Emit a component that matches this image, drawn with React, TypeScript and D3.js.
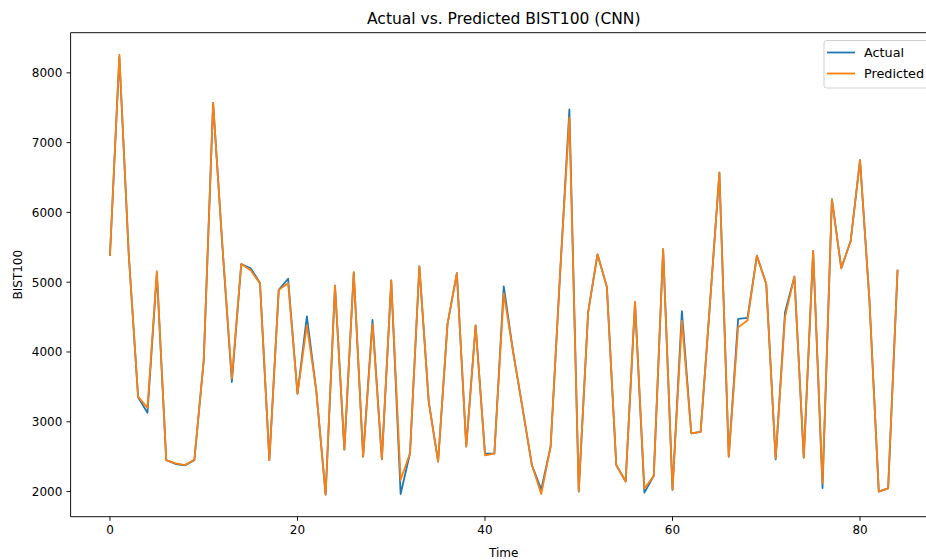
import React from "react";
import * as d3 from "d3";

const actual = [
  5390, 8230, 5400, 3350, 3130, 5130, 2450, 2395, 2375, 2450,
  3880, 7570, 5500, 3570, 5260, 5200, 4990, 2450, 4890, 5050,
  3400, 4510, 3450, 1955, 4950, 2600, 5140, 2500, 4460, 2460,
  5025, 1965, 2550, 5225, 3285, 2430, 4400, 5130, 2645, 4380,
  2545, 2545, 4940, 4000, 3200, 2380, 2030, 2645, 5100, 7475,
  2000, 4570, 5400, 4930, 2380, 2145, 4715, 1985, 2225, 5475,
  2025, 4585, 2835, 2855, 4700, 6570, 2500, 4475, 4490, 5380,
  4975, 2460, 4570, 5080, 2485, 5450, 2050, 6190, 5200, 5590,
  6750, 4750, 2000, 2045, 5165,
];

const predicted = [
  5390, 8260, 5400, 3360, 3200, 5160, 2450, 2405, 2380, 2455,
  3880, 7570, 5500, 3620, 5260, 5170, 4980, 2450, 4890, 4985,
  3405, 4380, 3450, 1955, 4950, 2600, 5145, 2500, 4400, 2465,
  5025, 2165, 2550, 5225, 3285, 2430, 4400, 5130, 2645, 4380,
  2520, 2545, 4840, 4000, 3200, 2380, 1965, 2645, 5100, 7360,
  2010, 4570, 5400, 4930, 2380, 2145, 4715, 2045, 2225, 5475,
  2025, 4450, 2835, 2855, 4700, 6570, 2500, 4355, 4450, 5380,
  4975, 2475, 4500, 5080, 2485, 5450, 2120, 6190, 5200, 5590,
  6750, 4750, 2000, 2045, 5165,
];

const xTicks = [0, 20, 40, 60, 80];
const yTicks = [2000, 3000, 4000, 5000, 6000, 7000, 8000];
const seriesNames = ["Actual", "Predicted"];
const colors = ["#1f77b4", "#ff7f0e"];

const W = 926;
const H = 560;
const left = 70.6;
const right = 936.9;
const top = 32.7;
const bottom = 516.7;
const font = "DejaVu Sans, sans-serif";

export default function App() {
  const n = actual.length;
  const xm = (n - 1) * 0.05;
  const x = d3.scaleLinear().domain([-xm, n - 1 + xm]).range([left, right]);
  const all = actual.concat(predicted);
  const lo = d3.min(all) as number;
  const hi = d3.max(all) as number;
  const ym = (hi - lo) * 0.05;
  const y = d3.scaleLinear().domain([lo - ym, hi + ym]).range([bottom, top]);
  const line = d3
    .line<number>()
    .x((_, i) => x(i))
    .y((d) => y(d));
  const series = [actual, predicted];
  const fs = 12;
  const lfs = 12.8;
  const legX = 824;
  const legY = 40.5;

  return (
    <svg
      width={W}
      height={H}
      style={{ position: "absolute", left: 0, top: 0, background: "#fff" }}
      fontFamily={font}
    >
      <rect x={0} y={0} width={W} height={H} fill="#fff" />
      <defs>
        <clipPath id="plotclip">
          <rect x={left} y={top} width={right - left} height={bottom - top} />
        </clipPath>
      </defs>
      <g clipPath="url(#plotclip)">
        {series.map((s, k) => (
          <path
            key={k}
            d={line(s) || ""}
            fill="none"
            stroke={colors[k]}
            strokeWidth={1.8}
            strokeLinejoin="round"
            strokeLinecap="square"
          />
        ))}
      </g>
      <line x1={left} y1={top} x2={right} y2={top} stroke="#000" strokeWidth={0.94} />
      <line x1={left} y1={bottom} x2={right} y2={bottom} stroke="#000" strokeWidth={0.94} />
      <line x1={left} y1={top} x2={left} y2={bottom} stroke="#000" strokeWidth={0.94} />
      {xTicks.map((t) => (
        <g key={t}>
          <line x1={x(t)} y1={bottom} x2={x(t)} y2={bottom + 4.1} stroke="#000" strokeWidth={0.94} />
          <text x={x(t)} y={bottom + 17.5} fontSize={fs} textAnchor="middle" fill="#000">
            {t}
          </text>
        </g>
      ))}
      {yTicks.map((t) => (
        <g key={t}>
          <line x1={left - 4.1} y1={y(t)} x2={left} y2={y(t)} stroke="#000" strokeWidth={0.94} />
          <text x={left - 8.2} y={y(t) + 4.3} fontSize={fs} textAnchor="end" fill="#000">
            {t}
          </text>
        </g>
      ))}
      <text x={(left + right) / 2} y={556.5} fontSize={fs} textAnchor="middle" fill="#000">
        Time
      </text>
      <text
        transform={`translate(21.5, ${(top + bottom) / 2}) rotate(-90)`}
        fontSize={fs}
        textAnchor="middle"
        fill="#000"
      >
        BIST100
      </text>
      <text x={(left + right) / 2} y={24} fontSize={15.5} textAnchor="middle" fill="#000">
        Actual vs. Predicted BIST100 (CNN)
      </text>
      <rect
        x={legX}
        y={legY}
        width={110}
        height={47.5}
        rx={2.5}
        fill="#fff"
        fillOpacity={0.8}
        stroke="#cccccc"
        strokeWidth={0.94}
      />
      {seriesNames.map((nm, k) => (
        <g key={nm}>
          <line
            x1={legX + 3}
            x2={legX + 31}
            y1={legY + 12 + k * 21}
            y2={legY + 12 + k * 21}
            stroke={colors[k]}
            strokeWidth={1.8}
          />
          <text x={legX + 40} y={legY + 16.6 + k * 21} fontSize={lfs} fill="#000">
            {nm}
          </text>
        </g>
      ))}
    </svg>
  );
}
